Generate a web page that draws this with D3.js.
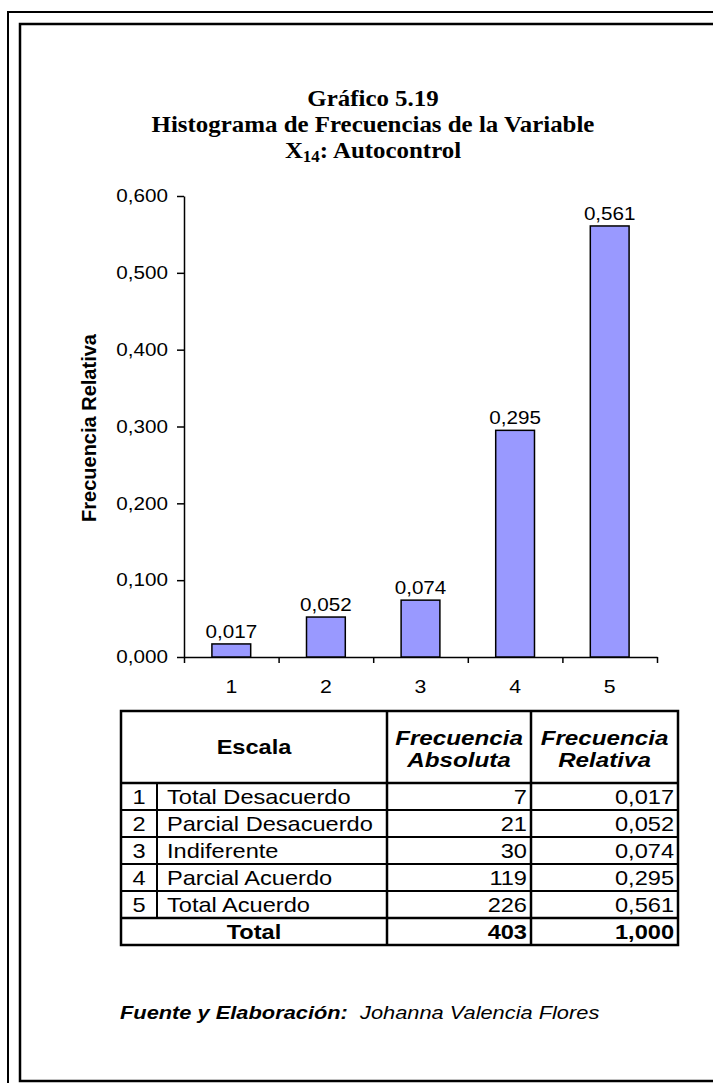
<!DOCTYPE html>
<html>
<head>
<meta charset="utf-8">
<script src="https://cdn.jsdelivr.net/npm/d3@7"></script>
<style>
  html, body { margin: 0; padding: 0; background: #fff; }
  svg { display: block; }
</style>
</head>
<body>
<svg id="chart" width="713" height="1083"></svg>
<script>
// ---- Data ----
const categories = [1, 2, 3, 4, 5];
const relFreq = [0.017, 0.052, 0.074, 0.295, 0.561];
const absFreq = [7, 21, 30, 119, 226];
const scaleLabels = ["Total Desacuerdo", "Parcial Desacuerdo", "Indiferente", "Parcial Acuerdo", "Total Acuerdo"];
const yTicks = [0, 0.1, 0.2, 0.3, 0.4, 0.5, 0.6];
const totalAbs = 403;
const totalRel = 1.000;
const titleLines = ["Gráfico 5.19", "Histograma de Frecuencias de la Variable"];

const fmt3 = v => d3.format(".3f")(v).replace(".", ",");
const svg = d3.select("#chart");
const sans = "Liberation Sans, Arial, sans-serif";
const serif = "Liberation Serif, Times New Roman, serif";
const SX = 1.18; // horizontal stretch of text seen in the reference

function stext(parent, x, y, s, o) {
  o = o || {};
  const g = parent.append("g").attr("transform", `translate(${x},${y}) scale(${o.sx || SX},1)`);
  const t = g.append("text").attr("x", 0).attr("y", 0)
    .attr("text-anchor", o.anchor || "start")
    .attr("font-family", o.family || sans)
    .attr("font-size", o.size || 18)
    .attr("fill", "#000");
  if (o.bold) t.attr("font-weight", "bold");
  if (o.italic) t.attr("font-style", "italic");
  if (o.dy) t.attr("dy", o.dy);
  if (s !== null) t.text(s);
  return t;
}

// ---- Borders ----
svg.append("rect").attr("x", 8).attr("y", 12).attr("width", 760).attr("height", 1120)
  .attr("fill", "none").attr("stroke", "#000").attr("stroke-width", 2);
svg.append("rect").attr("x", 20).attr("y", 24).attr("width", 740).attr("height", 1057)
  .attr("fill", "none").attr("stroke", "#000").attr("stroke-width", 2.5);

// ---- Title ----
const tcx = 373;
titleLines.forEach((t, i) => {
  stext(svg, tcx, 106 + i * 26, t, { anchor: "middle", family: serif, bold: true, size: 23.5, sx: 1.06 });
});
const t3 = stext(svg, tcx, 158, null, { anchor: "middle", family: serif, bold: true, size: 23.5, sx: 1.06 });
t3.append("tspan").text("X");
t3.append("tspan").attr("font-size", 16).attr("dy", 4).text("14");
t3.append("tspan").attr("dy", -4).text(": Autocontrol");

// ---- Scales ----
const x0 = 184, x1 = 657, yTop = 196, yBot = 657;
const y = d3.scaleLinear().domain([0, 0.6]).range([yBot, yTop]);
const xb = d3.scaleBand().domain(categories).range([x0, x1])
  .paddingInner(0.59).paddingOuter(0.295);
const xl = d3.scaleLinear().domain([0.5, 5.5]).range([x0, x1]);

// ---- Axes ----
const yAxis = svg.append("g").attr("transform", `translate(${x0},0)`)
  .call(d3.axisLeft(y).tickValues(yTicks).tickFormat("").tickSize(7).tickSizeOuter(0));
yAxis.selectAll("line, path").attr("stroke", "#000").attr("stroke-width", 1.5);
const yLab = svg.append("g");
yTicks.forEach(v => stext(yLab, x0 - 16, y(v), fmt3(v), { anchor: "end", size: 17.5, dy: "0.36em" }));

const xAxis = svg.append("g").attr("transform", `translate(0,${yBot})`)
  .call(d3.axisBottom(xl).tickValues([0.5, 1.5, 2.5, 3.5, 4.5, 5.5]).tickFormat("").tickSize(6).tickSizeOuter(0));
xAxis.selectAll("line, path").attr("stroke", "#000").attr("stroke-width", 1.5);
const xLab = svg.append("g");
categories.forEach(c => stext(xLab, xl(c), yBot + 36, String(c), { anchor: "middle", size: 18 }));

// ---- Bars ----
const data = categories.map((c, i) => ({ c, v: relFreq[i] }));
svg.append("g").selectAll("rect").data(data).join("rect")
  .attr("x", d => xb(d.c)).attr("width", xb.bandwidth())
  .attr("y", d => y(d.v)).attr("height", d => y(0) - y(d.v))
  .attr("fill", "#9999FF").attr("stroke", "#000").attr("stroke-width", 1.5);

const vLab = svg.append("g");
data.forEach(d => stext(vLab, xb(d.c) + xb.bandwidth() / 2, y(d.v) - 6, fmt3(d.v), { anchor: "middle", size: 17.5 }));

// ---- Y title ----
svg.append("text").attr("transform", "translate(96,428) rotate(-90)")
  .attr("text-anchor", "middle").attr("font-family", sans).attr("font-weight", "bold")
  .attr("font-size", 20).text("Frecuencia Relativa");

// ---- Table ----
const tL = 121, tR = 678, tTop = 711, hdrH = 72, rowH = 27;
const cNum = 157, cEsc = 387, cAbs = 531;
const nRows = categories.length + 1;
const tBot = tTop + hdrH + rowH * nRows;
const tg = svg.append("g");
const line = (xa, ya, xb_, yb, w) => tg.append("line").attr("x1", xa).attr("y1", ya).attr("x2", xb_).attr("y2", yb)
  .attr("stroke", "#000").attr("stroke-width", w || 2);
tg.append("rect").attr("x", tL).attr("y", tTop).attr("width", tR - tL).attr("height", tBot - tTop)
  .attr("fill", "none").attr("stroke", "#000").attr("stroke-width", 2.5);
line(tL, tTop + hdrH, tR, tTop + hdrH, 2.5);
for (let i = 1; i < nRows; i++) {
  line(tL, tTop + hdrH + rowH * i, tR, tTop + hdrH + rowH * i, i === nRows - 1 ? 2.5 : 2);
}
line(cNum, tTop + hdrH, cNum, tTop + hdrH + rowH * categories.length, 2);
line(cEsc, tTop, cEsc, tBot, 2.5);
line(cAbs, tTop, cAbs, tBot, 2.5);

const TS = 20;
stext(tg, (tL + cEsc) / 2, tTop + hdrH / 2 + 7, "Escala", { anchor: "middle", bold: true, size: TS });
stext(tg, (cEsc + cAbs) / 2, tTop + hdrH / 2 - 2, "Frecuencia", { anchor: "middle", bold: true, italic: true, size: 20.5 });
stext(tg, (cEsc + cAbs) / 2, tTop + hdrH / 2 + 20, "Absoluta", { anchor: "middle", bold: true, italic: true, size: 20.5 });
stext(tg, (cAbs + tR) / 2, tTop + hdrH / 2 - 2, "Frecuencia", { anchor: "middle", bold: true, italic: true, size: 20.5 });
stext(tg, (cAbs + tR) / 2, tTop + hdrH / 2 + 20, "Relativa", { anchor: "middle", bold: true, italic: true, size: 20.5 });

categories.forEach((c, i) => {
  const by = tTop + hdrH + rowH * i + 21;
  stext(tg, (tL + cNum) / 2, by, String(c), { anchor: "middle", size: TS });
  stext(tg, cNum + 10, by, scaleLabels[i], { size: TS });
  stext(tg, cAbs - 4, by, String(absFreq[i]), { anchor: "end", size: TS });
  stext(tg, tR - 4, by, fmt3(relFreq[i]), { anchor: "end", size: TS });
});
const ty = tTop + hdrH + rowH * categories.length + 21;
stext(tg, (tL + cEsc) / 2, ty, "Total", { anchor: "middle", bold: true, size: TS });
stext(tg, cAbs - 4, ty, String(totalAbs), { anchor: "end", bold: true, size: TS });
stext(tg, tR - 4, ty, fmt3(totalRel), { anchor: "end", bold: true, size: TS });

// ---- Footer ----
const ft = stext(svg, 120, 1019, null, { italic: true, size: 18.5 });
ft.append("tspan").attr("font-weight", "bold").text("Fuente y Elaboración:");
ft.append("tspan").text("\u00a0 Johanna Valencia Flores");
</script>
</body>
</html>
